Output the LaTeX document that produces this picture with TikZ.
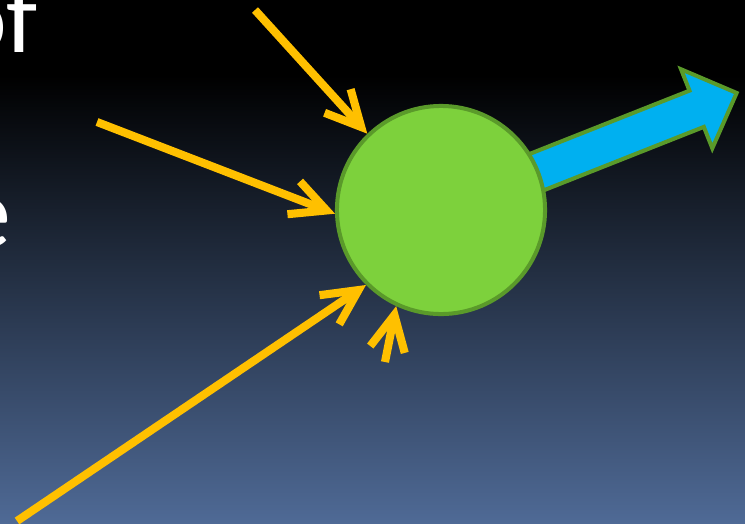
\documentclass[tikz,border=0pt]{standalone}
\usepackage{fontspec}
\setmainfont{Carlito}
\usetikzlibrary{arrows.meta, positioning, calc}
\definecolor{cgold}{HTML}{FFC000}
\definecolor{cleaf}{HTML}{7DD13C}
\definecolor{cleafdark}{HTML}{5A9A2A}
\definecolor{csky}{HTML}{00B0F0}
\definecolor{cdusk}{HTML}{4F6A96}
\tikzset{
  every picture/.style={line width=1.14pt},
  word/.style={text=white, inner sep=0pt, font=\fontsize{29}{34}\selectfont},
  cell/.style={circle, draw=cleafdark, fill=cleaf, line width=1.14pt, minimum size=2.08cm, inner sep=0pt},
  feed/.style={draw=cgold, line width=2.3pt, -{Straight Barb[length=10pt, width=10pt]}},
  outflow/.style={draw=cleafdark, fill=csky, line width=1.14pt, line join=miter},
}

\begin{document}
\begin{tikzpicture}[x=0.01cm, y=0.01cm]
  % background
  \useasboundingbox (0,0) rectangle (745,-524);
  \fill[black] (0,0) rectangle (745,-76);
  \shade[top color=black, bottom color=cdusk] (0,-75) rectangle (745,-524);
  % cut-off words at the left
  \node[word, anchor=base east] (wof) at (40,-52) {of};
  \node[word, anchor=base east] (we) at (13,-247) {e};
  % the cell
  \coordinate (c0) at (441,-210);
  \begin{scope}[shift={(c0)}, rotate=21.6]
    \draw[outflow] (60,19.5) -- (275,19.5) -- (275,42.5) -- (318,0) -- (275,-42.5) -- (275,-19.5) -- (60,-19.5) -- cycle;
  \end{scope}
  \node[cell] (circ) at (c0) {};
  % inputs
  \coordinate (s1) at (255,-10);
  \coordinate (s2) at (97,-122);
  \coordinate (s3) at (17,-521);
  \coordinate (s4) at (385,-362);
  \draw[feed] (s1) -- (circ.134.6);
  \draw[feed] (s2) -- (circ.182.7);
  \draw[feed] (s3) -- (circ.225.4);
  \draw[feed] (s4) -- (circ.245);
\end{tikzpicture}
\end{document}
